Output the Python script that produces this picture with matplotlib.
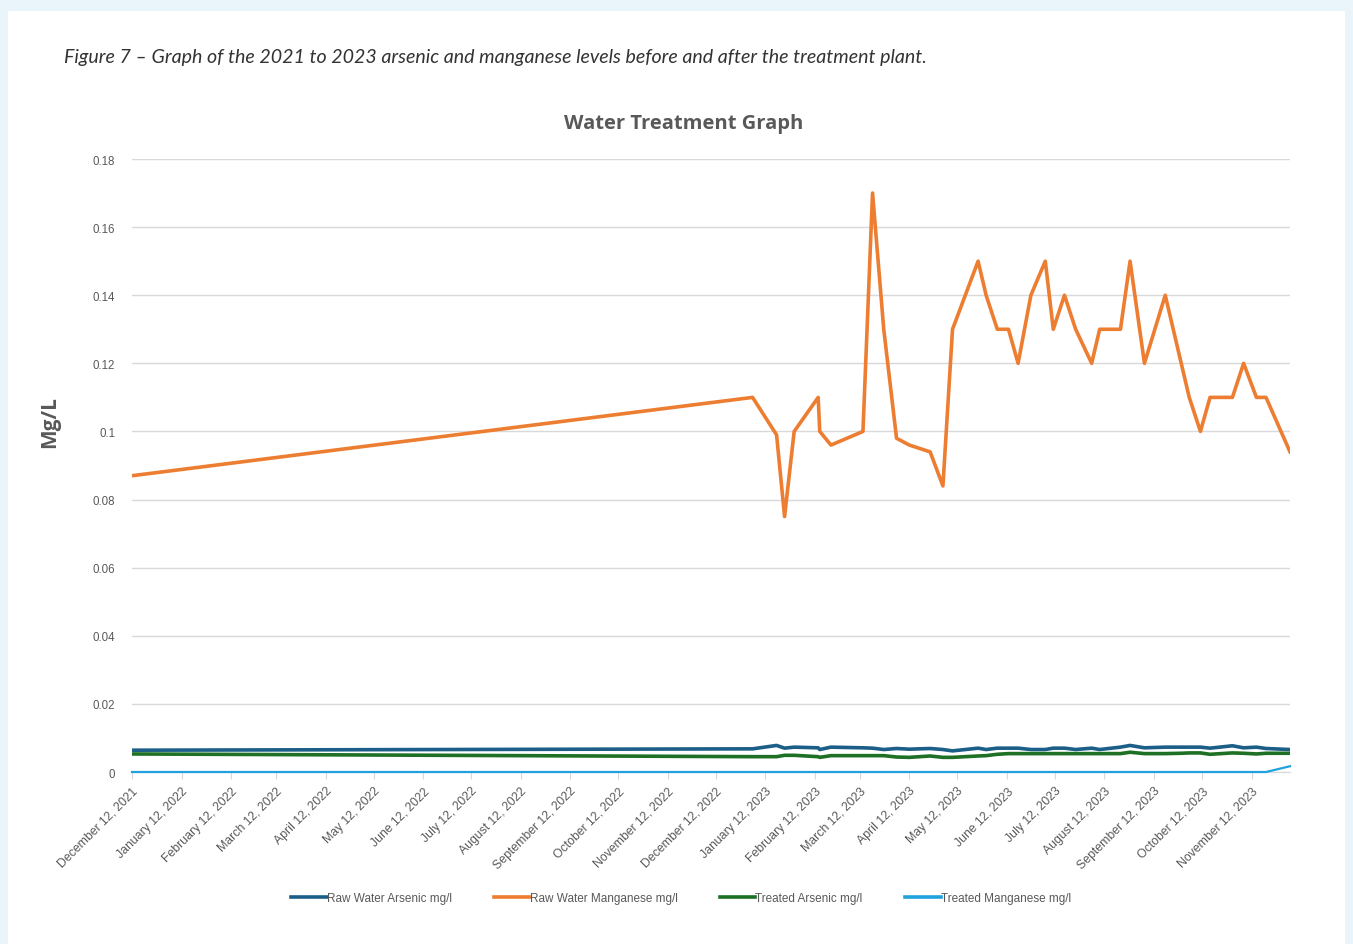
import matplotlib
matplotlib.use("Agg")
import matplotlib.pyplot as plt
from matplotlib.patches import Rectangle
import numpy as np
import pandas as pd

# sample dates
dates = ["2021-12-12", "2023-01-04", "2023-01-19", "2023-01-24", "2023-01-30",
         "2023-02-14", "2023-02-15", "2023-02-22", "2023-03-14", "2023-03-20",
         "2023-03-27", "2023-04-04", "2023-04-12", "2023-04-25", "2023-05-03",
         "2023-05-09", "2023-05-25", "2023-05-30", "2023-06-06", "2023-06-13",
         "2023-06-19", "2023-06-27", "2023-07-06", "2023-07-11", "2023-07-18",
         "2023-07-25", "2023-08-04", "2023-08-09", "2023-08-22", "2023-08-28",
         "2023-09-06", "2023-09-19", "2023-09-29", "2023-10-04", "2023-10-11",
         "2023-10-17", "2023-10-31", "2023-11-07", "2023-11-15", "2023-11-21",
         "2023-12-06"]

raw_mn = [0.087, 0.110, 0.099, 0.075, 0.100,
          0.110, 0.100, 0.096, 0.100, 0.170,
          0.130, 0.098, 0.096, 0.094, 0.084,
          0.130, 0.150, 0.140, 0.130, 0.130,
          0.120, 0.140, 0.150, 0.130, 0.140,
          0.130, 0.120, 0.130, 0.130, 0.150,
          0.120, 0.140, 0.120, 0.110, 0.100,
          0.110, 0.110, 0.120, 0.110, 0.110,
          0.094]

raw_as = [0.0064, 0.0068, 0.0078, 0.0070, 0.0073,
          0.0071, 0.0066, 0.0073, 0.0071, 0.0070,
          0.0066, 0.0069, 0.0067, 0.0069, 0.0066,
          0.0062, 0.0070, 0.0066, 0.0070, 0.0070,
          0.0070, 0.0066, 0.0066, 0.0070, 0.0070,
          0.0066, 0.0070, 0.0066, 0.0073, 0.0078,
          0.0071, 0.0073, 0.0073, 0.0073, 0.0073,
          0.0070, 0.0077, 0.0071, 0.0073, 0.0069,
          0.0066]

treated_as = [0.0053, 0.0045, 0.0045, 0.0049, 0.0049,
              0.0045, 0.0043, 0.0048, 0.0048, 0.0048,
              0.0048, 0.0044, 0.0043, 0.0047, 0.0043,
              0.0043, 0.0047, 0.0048, 0.0052, 0.0054,
              0.0054, 0.0054, 0.0054, 0.0054, 0.0054,
              0.0054, 0.0054, 0.0054, 0.0054, 0.0058,
              0.0054, 0.0054, 0.0055, 0.0056, 0.0056,
              0.0052, 0.0056, 0.0055, 0.0053, 0.0055,
              0.0055]

treated_mn = [0.0] * 40 + [0.0017]

series_names = ["Raw Water Arsenic mg/l", "Raw Water Manganese mg/l",
                "Treated Arsenic mg/l", "Treated Manganese mg/l"]

x = pd.to_datetime(dates)

fig = plt.figure(figsize=(13.53, 9.45), dpi=100)
fig.patch.set_facecolor("#EAF5FB")
fig.patches.append(Rectangle((8/1353, 0), (1345-8)/1353, 1-12/945,
                             transform=fig.transFigure, facecolor="white",
                             edgecolor="none", zorder=-5))

fig.text(64/1353, 1-57/945, "Figure 7 \u2013 Graph of the 2021 to 2023 arsenic and manganese levels before and after the treatment plant.",
         fontsize=14.1, style="italic", family="Lato", color="#333333", va="center")

ax = fig.add_axes([132/1353, 1-773/945, (1290-132)/1353, (773-160)/945])
ax.set_facecolor("none")

gris = "#595959"
ax.plot(x, raw_as, color="#1B5E87", lw=2.6, label=series_names[0], zorder=3)
ax.plot(x, raw_mn, color="#ED7D31", lw=2.6, label=series_names[1], zorder=3)
ax.plot(x, treated_as, color="#1E7024", lw=2.6, label=series_names[2], zorder=3)
ax.plot(x, treated_mn, color="#1FA2DE", lw=1.6, label=series_names[3], zorder=4,
        clip_on=False)

ax.set_ylim(0, 0.18)
ax.set_yticks(np.arange(0, 0.181, 0.02))
ax.set_yticklabels(["0", "0.02", "0.04", "0.06", "0.08", "0.1", "0.12", "0.14", "0.16", "0.18"])
ax.set_xlim(x[0], x[-1])

ticks = pd.date_range("2021-12-01", "2023-11-01", freq="MS") + pd.Timedelta(days=11)
ax.set_xticks(ticks)
ax.set_xticklabels([t.strftime("%B %-d, %Y") for t in ticks], rotation=45,
                   ha="right", rotation_mode="anchor", fontsize=8.8,
                   family="Liberation Sans", color=gris)

ax.grid(axis="y", color="#D9D9D9", lw=1)
for s in ["top", "right", "left"]:
    ax.spines[s].set_visible(False)
ax.spines["bottom"].set_color("#D9D9D9")
ax.tick_params(axis="y", length=0, pad=12, labelsize=8.3, labelcolor=gris)
ax.tick_params(axis="x", length=5, color="#D9D9D9", pad=4)
for lab in ax.get_yticklabels():
    lab.set_family("Liberation Sans")

fig.text(684/1353, 1-124/945, "Water Treatment Graph", fontsize=14.5,
         fontweight="bold", color=gris, family="Open Sans", ha="center", va="center")
fig.text(50/1353, 1-422/945, "Mg/L", fontsize=15, fontweight="bold", color=gris,
         family="Open Sans", rotation=90, ha="center", va="center")

leg = fig.legend(loc="center", bbox_to_anchor=(681/1353, 1-899/945), ncol=4,
                 frameon=False, handlelength=3.0, handletextpad=0.0,
                 columnspacing=3.6, labelcolor=gris,
                 prop={"family": "Liberation Sans", "size": 8.5})
for h in leg.get_lines():
    h.set_linewidth(2.6)

fig.savefig("out.png", dpi=100, facecolor=fig.get_facecolor())
